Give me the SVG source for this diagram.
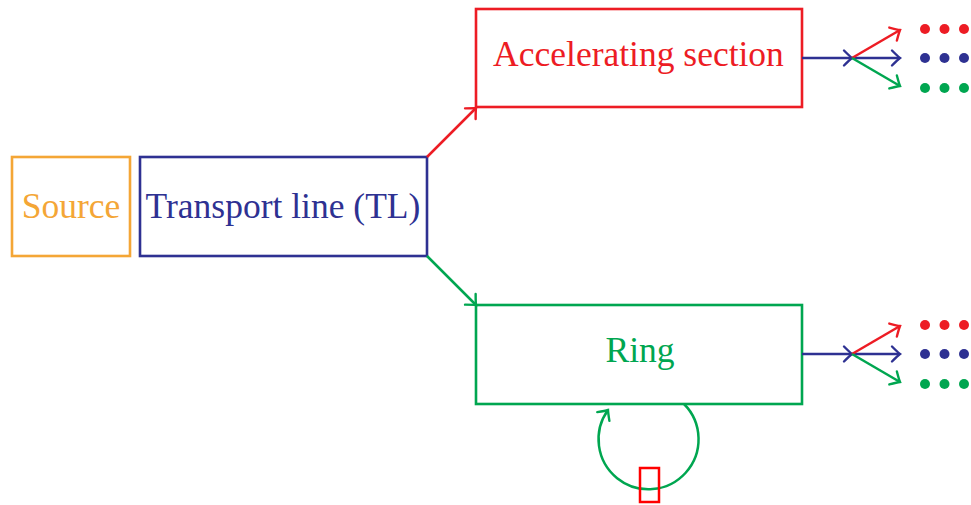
<svg xmlns="http://www.w3.org/2000/svg" width="971" height="505" viewBox="0 0 971 505">
<style>
.box{fill:#fff;stroke-width:2.6}
.lbl{font-family:"Liberation Serif","DejaVu Serif",serif;font-size:35.5px;text-anchor:middle}
.c{fill:none;stroke-width:2.5}
</style>
<defs>
<marker id="aR" markerUnits="userSpaceOnUse" viewBox="-10 -10 12 20" markerWidth="12" markerHeight="20" refX="0" refY="0" orient="auto" overflow="visible"><path d="M-8,-7.5 Q-2,-1.5 0,0 Q-2,1.5 -8,7.5" fill="none" stroke="#ED1C24" stroke-width="2.4" stroke-linecap="round"/></marker>
<marker id="aG" markerUnits="userSpaceOnUse" viewBox="-10 -10 12 20" markerWidth="12" markerHeight="20" refX="0" refY="0" orient="auto" overflow="visible"><path d="M-8,-7.5 Q-2,-1.5 0,0 Q-2,1.5 -8,7.5" fill="none" stroke="#00A650" stroke-width="2.4" stroke-linecap="round"/></marker>
<marker id="aB" markerUnits="userSpaceOnUse" viewBox="-10 -10 12 20" markerWidth="12" markerHeight="20" refX="0" refY="0" orient="auto" overflow="visible"><path d="M-8,-7.5 Q-2,-1.5 0,0 Q-2,1.5 -8,7.5" fill="none" stroke="#2E3192" stroke-width="2.4" stroke-linecap="round"/></marker>
</defs>
<g id="source"><rect class="box" x="12" y="157" width="118" height="99" stroke="#F4A636"/><text class="lbl" x="71" y="218" fill="#F4A636">Source</text></g>
<g id="transport"><rect class="box" x="140" y="157" width="287" height="99" stroke="#2E3192"/><text class="lbl" x="283" y="218" fill="#2E3192">Transport line (TL)</text></g>
<g id="accel"><rect class="box" x="476" y="9" width="326" height="98" stroke="#ED1C24"/><text class="lbl" x="638.5" y="66" fill="#ED1C24">Accelerating section</text></g>
<g id="ring"><rect class="box" x="476" y="305" width="326" height="99" stroke="#00A650"/><text class="lbl" x="640" y="362" fill="#00A650">Ring</text></g>
<g id="connectors">
<line class="c" x1="427" y1="157" x2="476" y2="108" stroke="#ED1C24" marker-end="url(#aR)"/>
<line class="c" x1="427" y1="256" x2="476" y2="305" stroke="#00A650" marker-end="url(#aG)"/>
<line class="c" x1="802" y1="58" x2="852" y2="58" stroke="#2E3192" marker-end="url(#aB)"/>
<line class="c" x1="852" y1="58" x2="900" y2="58" stroke="#2E3192" marker-end="url(#aB)"/>
<line class="c" x1="852" y1="58" x2="900" y2="30" stroke="#ED1C24" marker-end="url(#aR)"/>
<line class="c" x1="852" y1="58" x2="900" y2="86" stroke="#00A650" marker-end="url(#aG)"/>
<line class="c" x1="802" y1="354" x2="852" y2="354" stroke="#2E3192" marker-end="url(#aB)"/>
<line class="c" x1="852" y1="354" x2="900" y2="354" stroke="#2E3192" marker-end="url(#aB)"/>
<line class="c" x1="852" y1="354" x2="900" y2="326" stroke="#ED1C24" marker-end="url(#aR)"/>
<line class="c" x1="852" y1="354" x2="900" y2="382" stroke="#00A650" marker-end="url(#aG)"/>
<path class="c" d="M684,404 A50,50 0 1 1 608,410" stroke="#00A650" marker-end="url(#aG)"/>
</g>
<g id="dots">
<circle cx="925" cy="29" r="5" fill="#ED1C24"/><circle cx="944.5" cy="29" r="5" fill="#ED1C24"/><circle cx="964" cy="29" r="5" fill="#ED1C24"/>
<circle cx="925" cy="58" r="5" fill="#2E3192"/><circle cx="944.5" cy="58" r="5" fill="#2E3192"/><circle cx="964" cy="58" r="5" fill="#2E3192"/>
<circle cx="925" cy="88" r="5" fill="#00A650"/><circle cx="944.5" cy="88" r="5" fill="#00A650"/><circle cx="964" cy="88" r="5" fill="#00A650"/>
<circle cx="925" cy="325" r="5" fill="#ED1C24"/><circle cx="944.5" cy="325" r="5" fill="#ED1C24"/><circle cx="964" cy="325" r="5" fill="#ED1C24"/>
<circle cx="925" cy="354" r="5" fill="#2E3192"/><circle cx="944.5" cy="354" r="5" fill="#2E3192"/><circle cx="964" cy="354" r="5" fill="#2E3192"/>
<circle cx="925" cy="384" r="5" fill="#00A650"/><circle cx="944.5" cy="384" r="5" fill="#00A650"/><circle cx="964" cy="384" r="5" fill="#00A650"/>
</g>
<g id="element"><rect x="640" y="468" width="19" height="34" fill="none" stroke="#FF0000" stroke-width="2.5"/></g>
</svg>
